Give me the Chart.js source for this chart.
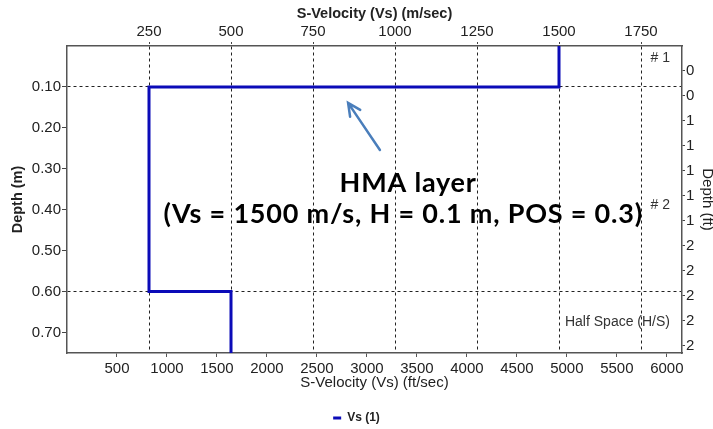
<!DOCTYPE html>
<html>
<head>
<meta charset="utf-8">
<script src="https://cdn.jsdelivr.net/npm/chart.js@4.4.0/dist/chart.umd.min.js"></script>
<style>
  html, body { margin: 0; padding: 0; background: #fff; }
</style>
</head>
<body>
<canvas id="profileChart" width="713" height="429"></canvas>
<script>
// layer model: shear wave velocity per layer and its depth range
const layerVs = [1500, 250, 500];          // m/sec
const layerTop = [0, 0.1, 0.6];            // m
const layerBottom = [0.1, 0.6, 0.75];      // m
const layerNames = ['# 1', '# 2', 'Half Space (H/S)'];

const velTicksMs = [250, 500, 750, 1000, 1250, 1500, 1750];
const velTicksFt = [500, 1000, 1500, 2000, 2500, 3000, 3500, 4000, 4500, 5000, 5500, 6000];
const depthTicksM = [0.1, 0.2, 0.3, 0.4, 0.5, 0.6, 0.7];
const depthTicksFt = [0.2, 0.4, 0.6, 0.8, 1.0, 1.2, 1.4, 1.6, 1.8, 2.0, 2.2, 2.4];

const FT = 3.28084;
const velMax = 1875;
const depthMax = 0.75;

const lineColor = '#0b0bb8';
const axisColor = '#555';
const textColor = '#222';
const baseFont = 'Liberation Sans, Arial, sans-serif';

const profilePoints = [];
layerVs.forEach((vs, i) => {
    profilePoints.push({ x: vs, y: layerTop[i] });
    profilePoints.push({ x: vs, y: layerBottom[i] });
});

const fixedTicks = (values) => (scale) => {
    scale.ticks = values.map(v => ({ value: v }));
};

const annotations = {
    id: 'annotations',
    beforeDatasetsDraw(chart) {
        const { ctx, chartArea, scales } = chart;
        const x = scales.x, y = scales.y;
        ctx.save();

        // layer names at the right side
        ctx.font = '14px ' + baseFont;
        ctx.fillStyle = '#333';
        ctx.textAlign = 'right';
        ctx.textBaseline = 'middle';
        const nameDepth = [0.03, 0.39, 0.675];
        layerNames.forEach((name, i) => {
            ctx.fillText(name, chartArea.right - 12, y.getPixelForValue(nameDepth[i]));
        });

        // callout text
        ctx.font = 'bold 27px Lato, "Open Sans", sans-serif';
        ctx.letterSpacing = '0.8px';
        ctx.fillStyle = '#000';
        ctx.textAlign = 'center';
        ctx.fillText('HMA layer', x.getPixelForValue(1040), y.getPixelForValue(0.336));
        ctx.fillText('(Vs = 1500 m/s, H = 0.1 m, POS = 0.3)', x.getPixelForValue(1025), y.getPixelForValue(0.412));
        ctx.letterSpacing = '0px';

        // arrow pointing at the top layer
        const tx = x.getPixelForValue(954), ty = y.getPixelForValue(0.254);
        const hx = x.getPixelForValue(857), hy = y.getPixelForValue(0.139);
        const ang = Math.atan2(hy - ty, hx - tx);
        ctx.strokeStyle = '#4a7ebb';
        ctx.lineWidth = 2.5;
        ctx.lineCap = 'round';
        ctx.beginPath();
        ctx.moveTo(tx, ty);
        ctx.lineTo(hx, hy);
        ctx.moveTo(hx - 14 * Math.cos(ang - 0.45), hy - 14 * Math.sin(ang - 0.45));
        ctx.lineTo(hx, hy);
        ctx.lineTo(hx - 14 * Math.cos(ang + 0.45), hy - 14 * Math.sin(ang + 0.45));
        ctx.stroke();
        ctx.restore();
    }
};

const ctx = document.getElementById('profileChart').getContext('2d');
const profileChart = new Chart(ctx, {
    type: 'scatter',
    data: {
        datasets: [{
            label: 'Vs (1)',
            data: profilePoints,
            showLine: true,
            borderColor: lineColor,
            backgroundColor: lineColor,
            borderWidth: 3,
            pointRadius: 0,
            tension: 0,
            xAxisID: 'x',
            yAxisID: 'y'
        }]
    },
    options: {
        responsive: false,
        animation: false,
        devicePixelRatio: 1,
        layout: { padding: { left: 0, right: 0, top: 0, bottom: -5 } },
        scales: {
            x: {
                type: 'linear',
                position: 'top',
                min: 0,
                max: velMax,
                afterBuildTicks: fixedTicks(velTicksMs),
                afterFit: (s) => { s.height = 46; },
                ticks: {
                    font: { size: 15, family: baseFont }, color: textColor, padding: 1, maxRotation: 0, autoSkip: false,
                    callback: (v) => String(v)
                },
                grid: { color: '#222', lineWidth: 1, tickLength: 4, tickColor: '#444', tickBorderDash: [2, 2] },
                border: { display: true, color: axisColor, width: 1.5, dash: [3, 3] },
                title: {
                    display: true,
                    text: 'S-Velocity (Vs) (m/sec)',
                    color: textColor,
                    font: { size: 14.5, weight: 'bold', family: baseFont },
                    padding: { top: 5, bottom: 0 }
                }
            },
            x2: {
                type: 'linear',
                position: 'bottom',
                min: 0,
                max: velMax * FT,
                afterBuildTicks: fixedTicks(velTicksFt),
                afterFit: (s) => { s.height = 49; },
                ticks: {
                    font: { size: 15, family: baseFont }, color: textColor, padding: 3, maxRotation: 0, autoSkip: false,
                    callback: (v) => String(v)
                },
                grid: { drawOnChartArea: false, tickLength: 4, tickColor: axisColor },
                border: { display: true, color: axisColor, width: 1.5 },
                title: {
                    display: true,
                    text: 'S-Velocity (Vs) (ft/sec)',
                    color: textColor,
                    font: { size: 15, family: baseFont },
                    padding: { top: 0, bottom: 10 }
                }
            },
            y: {
                type: 'linear',
                position: 'left',
                reverse: true,
                min: 0,
                max: depthMax,
                afterBuildTicks: fixedTicks(depthTicksM),
                afterFit: (s) => { s.width = 67; },
                ticks: {
                    font: { size: 15, family: baseFont }, color: textColor, padding: 1, autoSkip: false,
                    callback: (v) => v.toFixed(2)
                },
                grid: {
                    color: (c) => (c.tick && layerTop.slice(1).includes(c.tick.value)) ? '#222' : 'rgba(0,0,0,0)',
                    lineWidth: 1,
                    tickLength: 5,
                    tickColor: '#444'
                },
                border: { display: true, color: axisColor, width: 1.5, dash: [3, 3] },
                title: {
                    display: true,
                    text: 'Depth (m)',
                    color: textColor,
                    font: { size: 14.5, weight: 'bold', family: baseFont },
                    padding: { top: 9, bottom: 0 }
                }
            },
            y2: {
                type: 'linear',
                position: 'right',
                reverse: true,
                min: 0,
                max: depthMax * FT,
                afterBuildTicks: fixedTicks(depthTicksFt),
                afterFit: (s) => { s.width = 31; },
                ticks: {
                    font: { size: 15, family: baseFont }, color: textColor, padding: 1, autoSkip: false,
                    callback: (v) => String(Math.round(v))
                },
                grid: { drawOnChartArea: false, tickLength: 3, tickColor: '#444' },
                border: { display: true, color: axisColor, width: 1.5 },
                title: {
                    display: true,
                    text: 'Depth (ft)',
                    color: textColor,
                    font: { size: 15, family: baseFont, lineHeight: 0.8 },
                    padding: { top: 0, bottom: 0 }
                }
            }
        },
        plugins: {
            tooltip: { enabled: false },
            legend: {
                display: true,
                position: 'bottom',
                labels: {
                    boxWidth: 8,
                    boxHeight: 3,
                    padding: 10,
                    color: textColor,
                    font: { size: 12, weight: 'bold', family: baseFont },
                    generateLabels: (chart) => chart.data.datasets.map((ds, i) => ({
                        text: ds.label,
                        fillStyle: ds.borderColor,
                        strokeStyle: ds.borderColor,
                        lineWidth: 0,
                        hidden: false,
                        datasetIndex: i,
                        fontColor: textColor
                    }))
                }
            }
        }
    },
    plugins: [annotations]
});
</script>
</body>
</html>
